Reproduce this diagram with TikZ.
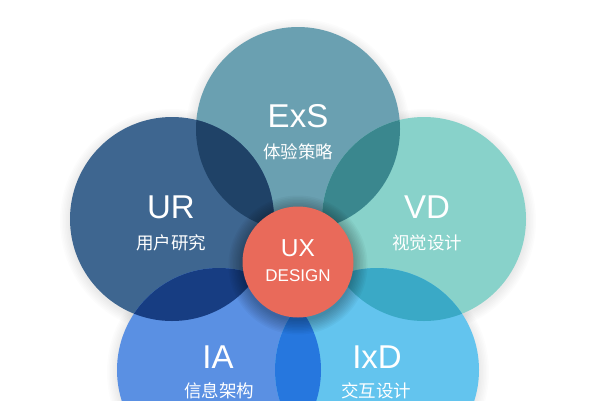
\documentclass[tikz,border=0pt]{standalone}
\usepackage{fontspec}
\setmainfont{Liberation Sans}
\newfontfamily\cjk{Noto Sans CJK SC}
\definecolor{cExS}{HTML}{6AA0B1}
\definecolor{cUR}{HTML}{3E6690}
\definecolor{cVD}{HTML}{88D2CA}
\definecolor{cIA}{HTML}{5A90E3}
\definecolor{cIxD}{HTML}{63C4EE}
\definecolor{cUX}{HTML}{E96A5A}
\definecolor{oURExS}{HTML}{1F4267}
\definecolor{oExSVD}{HTML}{3A878E}
\definecolor{oURIA}{HTML}{173D82}
\definecolor{oVDIxD}{HTML}{3AA9C6}
\definecolor{oIAIxD}{HTML}{2677DE}
\tikzset{
  petal/.style={circle, minimum size=204pt, inner sep=0pt, outer sep=0pt},
  big/.style={text=white, inner sep=0pt, font=\fontsize{33}{33}\selectfont},
  small/.style={text=white, inner sep=0pt, font=\cjk\fontsize{17.5}{17.5}\selectfont},
}
\begin{document}
\begin{tikzpicture}[x=1pt, y=-1pt]
\useasboundingbox (0,0) rectangle (596,400);
\fill[white] (0,0) rectangle (596,400);
% centres
\coordinate (pExS) at (298,129);
\coordinate (pUR) at (172,219);
\coordinate (pVD) at (424,219);
\coordinate (pIA) at (219,370);
\coordinate (pIxD) at (377,370);
% soft outer shadows
\foreach \p in {pExS,pUR,pVD,pIA,pIxD} {
  \foreach \r in {103,104.5,...,112} {
    \fill[black, opacity=0.012] ([yshift=-2pt]\p) circle[radius=\r pt];
  }
}
% circles
\node[petal, fill=cExS] (exs) at (pExS) {};
\node[petal, fill=cUR] (ur) at (pUR) {};
\node[petal, fill=cVD] (vd) at (pVD) {};
\node[petal, fill=cIA] (ia) at (pIA) {};
\node[petal, fill=cIxD] (ixd) at (pIxD) {};
% overlaps
\begin{scope}\clip (pUR) circle[radius=102pt]; \fill[oURExS] (pExS) circle[radius=102pt];\end{scope}
\begin{scope}\clip (pVD) circle[radius=102pt]; \fill[oExSVD] (pExS) circle[radius=102pt];\end{scope}
\begin{scope}\clip (pUR) circle[radius=102pt]; \fill[oURIA] (pIA) circle[radius=102pt];\end{scope}
\begin{scope}\clip (pVD) circle[radius=102pt]; \fill[oVDIxD] (pIxD) circle[radius=102pt];\end{scope}
\begin{scope}\clip (pIA) circle[radius=102pt]; \fill[oIAIxD] (pIxD) circle[radius=102pt];\end{scope}
% centre shadow
\foreach \r in {56,57.5,...,70} {
  \fill[black, opacity=0.03] (298,265) circle[radius=\r pt];
}
% centre
\node[circle, minimum size=111pt, inner sep=0pt, fill=cUX] (ux) at (298,262) {};
% labels
\node[big] (exst) at (298,116.5) {ExS};
\node[small] (exsc) at (298,152) {体验策略};
\node[big] (urt) at (171,207) {UR};
\node[small] (urc) at (171,243) {用户研究};
\node[big] (vdt) at (427,207) {VD};
\node[small] (vdc) at (427,243) {视觉设计};
\node[big] (iat) at (218,357.5) {IA};
\node[small] (iac) at (219,390.5) {信息架构};
\node[big] (ixdt) at (377,357.5) {IxD};
\node[small] (ixdc) at (376,390.5) {交互设计};
\node[text=white, inner sep=0pt, font=\fontsize{24.5}{24.5}\selectfont] (uxt) at (298,248.5) {UX};
\node[text=white, inner sep=0pt, font=\fontsize{17}{17}\selectfont] (uxd) at (298,275.5) {DESIGN};
\end{tikzpicture}
\end{document}
